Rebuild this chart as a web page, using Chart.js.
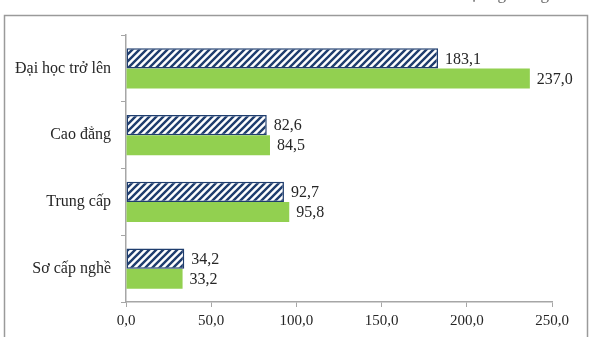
<!DOCTYPE html>
<html>
<head>
<meta charset="utf-8">
<script src="https://cdn.jsdelivr.net/npm/chart.js@4/dist/chart.umd.min.js"></script>
<style>
  html, body { margin: 0; padding: 0; background: #fff; }
  #wrap { width: 600px; height: 337px; position: relative; }
</style>
</head>
<body>
<div id="wrap"><canvas id="eduChart"></canvas></div>
<script>
// Categories and values
const categories = ['Đại học trở lên', 'Cao đẳng', 'Trung cấp', 'Sơ cấp nghề'];
const seriesFirst = [183.1, 82.6, 92.7, 34.2];
const seriesSecond = [237.0, 84.5, 95.8, 33.2];
const xTicks = [0, 50, 100, 150, 200, 250];
const unitNote = 'Đơn vị: Nghìn người';

const navy = '#1f3d6e';
const green = '#92d050';
const textColor = '#262626';
const serif = '"Liberation Serif", "DejaVu Serif", serif';

const fmt = v => v.toFixed(1).replace('.', ',');

// diagonal hatch fill for the first series
function hatch() {
  const c = document.createElement('canvas');
  c.width = 7; c.height = 7;
  const g = c.getContext('2d');
  g.fillStyle = '#fff';
  g.fillRect(0, 0, 7, 7);
  g.strokeStyle = navy;
  g.lineWidth = 2.4;
  g.beginPath();
  g.moveTo(-1, 8); g.lineTo(8, -1);
  g.moveTo(-4.5, 4.5); g.lineTo(4.5, -4.5);
  g.moveTo(2.5, 11.5); g.lineTo(11.5, 2.5);
  g.stroke();
  return g.createPattern(c, 'repeat');
}

// outer frame and the unit note above it
const framePlugin = {
  id: 'frame',
  beforeDraw(chart) {
    const ctx = chart.ctx;
    ctx.save();
    ctx.fillStyle = '#fff';
    ctx.fillRect(0, 0, chart.width, chart.height);
    ctx.strokeStyle = '#9a9a9a';
    ctx.lineWidth = 1.5;
    ctx.strokeRect(4.5, 15.5, 583, 340);
    ctx.font = '17px ' + serif;
    ctx.fillStyle = '#666';
    ctx.textAlign = 'right';
    ctx.textBaseline = 'alphabetic';
    ctx.fillText(unitNote, 572, -1);
    ctx.restore();
  }
};

// value labels at the end of each bar
const valueLabels = {
  id: 'valueLabels',
  afterDatasetsDraw(chart) {
    const ctx = chart.ctx;
    ctx.save();
    ctx.font = '16px ' + serif;
    ctx.fillStyle = textColor;
    ctx.textAlign = 'left';
    ctx.textBaseline = 'middle';
    chart.data.datasets.forEach((ds, i) => {
      chart.getDatasetMeta(i).data.forEach((bar, j) => {
        ctx.fillText(fmt(ds.data[j]), bar.x + 7, bar.y + 1);
      });
    });
    ctx.restore();
  }
};

new Chart(document.getElementById('eduChart'), {
  type: 'bar',
  data: {
    labels: categories,
    datasets: [
      {
        label: 'Kỳ trước',
        data: seriesFirst,
        backgroundColor: hatch(),
        borderColor: navy,
        borderWidth: 1.5,
        borderSkipped: false,
        categoryPercentage: 0.6,
        barPercentage: 1.0
      },
      {
        label: 'Kỳ này',
        data: seriesSecond,
        backgroundColor: green,
        borderWidth: 0,
        categoryPercentage: 0.6,
        barPercentage: 1.0
      }
    ]
  },
  options: {
    indexAxis: 'y',
    responsive: true,
    maintainAspectRatio: false,
    animation: false,
    layout: { padding: { left: 0, right: 48, top: 35, bottom: 0 } },
    plugins: {
      legend: { display: false },
      tooltip: { enabled: false }
    },
    scales: {
      x: {
        min: 0,
        max: 250,
        afterBuildTicks: scale => { scale.ticks = xTicks.map(v => ({ value: v })); },
        afterFit: scale => { scale.height = 35; },
        grid: { drawOnChartArea: false, drawTicks: true, tickLength: 5, color: '#a6a6a6' },
        border: { color: '#a6a6a6', width: 1.5 },
        ticks: {
          color: textColor,
          font: { family: serif, size: 15 },
          padding: 5,
          maxRotation: 0,
          callback: v => fmt(v)
        }
      },
      y: {
        afterFit: scale => { scale.width = 126; },
        grid: { drawOnChartArea: false, drawTicks: true, tickLength: 5, offset: true, color: '#a6a6a6' },
        border: { color: '#a6a6a6', width: 1.5 },
        ticks: {
          color: textColor,
          font: { family: serif, size: 16 },
          padding: 10
        }
      }
    }
  },
  plugins: [framePlugin, valueLabels]
});
</script>
</body>
</html>
